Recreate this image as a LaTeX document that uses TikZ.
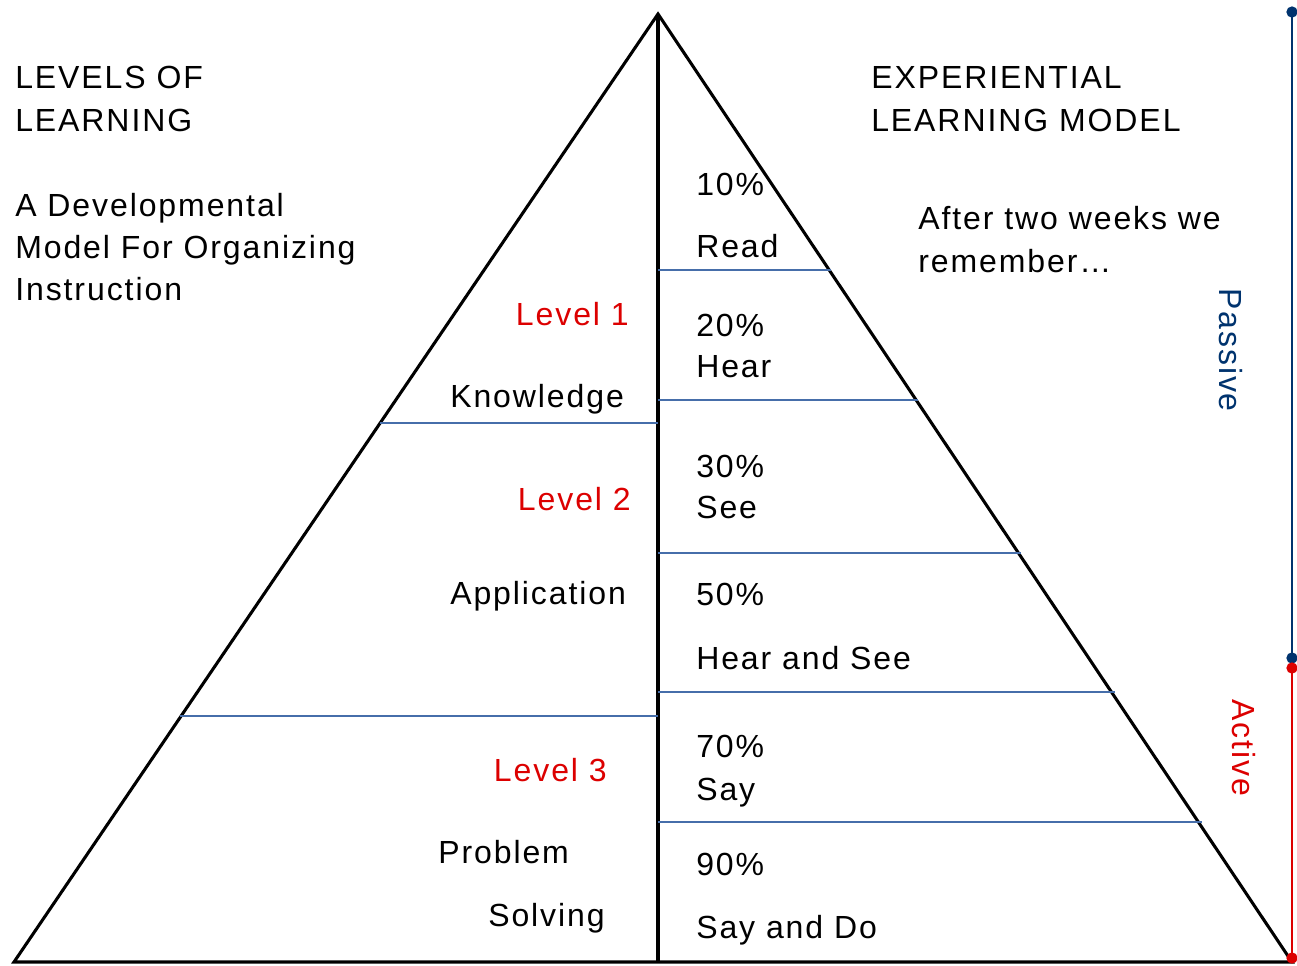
\documentclass[tikz,border=0pt]{standalone}
\usepackage{fontspec}
\setmainfont[LetterSpace=6]{Liberation Sans}
\begin{document}
\begin{tikzpicture}[x=0.75pt,y=-0.75pt,
  txt/.style={anchor=base west,inner sep=0pt,font=\fontsize{24}{29}\selectfont},
  rtxt/.style={anchor=base east,inner sep=0pt,font=\fontsize{24}{29}\selectfont,text=lvlred},
  tri/.style={line width=2.3pt,line join=miter,black},
  mid/.style={line width=3.6pt,black},
  band/.style={line width=0.9pt,bandblue},
  passline/.style={line width=2.2pt,navy},
  actline/.style={line width=2.2pt,lvlred},
  dot/.style={circle,inner sep=0pt,minimum size=8.5pt}]
\definecolor{bandblue}{RGB}{70,110,170}
\definecolor{navy}{RGB}{0,51,110}
\definecolor{lvlred}{RGB}{220,0,0}
\useasboundingbox (0,0) rectangle (1297,965);
% triangle
\coordinate (apex) at (658,14);
\coordinate (bl) at (14,962);
\coordinate (br) at (1292,962);
\coordinate (bm) at (658,962);
\draw[tri] (bl) -- (apex) -- (br) -- cycle;
\draw[mid] (apex) -- (bm);
% left bands
\coordinate (l1a) at (380,423); \coordinate (l1b) at (658,423);
\coordinate (l2a) at (180,716); \coordinate (l2b) at (658,716);
\draw[band] (l1a) -- (l1b);
\draw[band] (l2a) -- (l2b);
% right bands
\coordinate (r1a) at (658,270); \coordinate (r1b) at (831,270);
\coordinate (r2a) at (658,400); \coordinate (r2b) at (918,400);
\coordinate (r3a) at (658,553); \coordinate (r3b) at (1021,553);
\coordinate (r4a) at (658,692); \coordinate (r4b) at (1115,692);
\coordinate (r5a) at (658,822); \coordinate (r5b) at (1202,822);
\draw[band] (r1a) -- (r1b);
\draw[band] (r2a) -- (r2b);
\draw[band] (r3a) -- (r3b);
\draw[band] (r4a) -- (r4b);
\draw[band] (r5a) -- (r5b);
% passive / active scale
\node[dot,fill=navy] (p1) at (1292,12) {};
\node[dot,fill=navy] (p2) at (1292,658) {};
\node[dot,fill=lvlred] (a1) at (1292,668) {};
\node[dot,fill=lvlred] (a2) at (1292,958) {};
\draw[passline] (p1.center) -- (p2.center);
\draw[actline] (a1.center) -- (a2.center);
\node[rotate=-90,inner sep=0pt,font=\fontsize{24}{29}\selectfont,text=navy] (passive) at (1231,350) {Passive};
\node[rotate=-90,inner sep=0pt,font=\fontsize{24}{29}\selectfont,text=lvlred] (active) at (1244,748) {Active};
% left texts
\node[txt] (t1) at (15,88) {LEVELS OF};
\node[txt] (t2) at (15,131) {LEARNING};
\node[txt] (t3) at (15,216) {A Developmental};
\node[txt] (t4) at (15,258) {Model For Organizing};
\node[txt] (t5) at (15,300) {Instruction};
\node[rtxt] (lv1) at (629,325) {Level 1};
\node[txt] (k) at (450,407) {Knowledge};
\node[rtxt] (lv2) at (631,510) {Level 2};
\node[txt] (ap) at (450,604) {Application};
\node[rtxt] (lv3) at (607,781) {Level 3};
\node[txt] (pr) at (438,863) {Problem};
\node[txt] (so) at (488,926) {Solving};
% right texts
\node[txt] (e1) at (871,88) {EXPERIENTIAL};
\node[txt] (e2) at (871,131) {LEARNING MODEL};
\node[txt] (w1) at (918,229) {After two weeks we};
\node[txt] (w2) at (918,272) {remember\ldots};
\node[txt] (p10) at (696,195) {10\%};
\node[txt] (rd) at (696,257) {Read};
\node[txt] (p20) at (696,336) {20\%};
\node[txt] (hr) at (696,377) {Hear};
\node[txt] (p30) at (696,477) {30\%};
\node[txt] (se) at (696,518) {See};
\node[txt] (p50) at (696,605) {50\%};
\node[txt] (hs) at (696,669) {Hear and See};
\node[txt] (p70) at (696,757) {70\%};
\node[txt] (sa) at (696,800) {Say};
\node[txt] (p90) at (696,875) {90\%};
\node[txt] (sd) at (696,938) {Say and Do};
\end{tikzpicture}
\end{document}
